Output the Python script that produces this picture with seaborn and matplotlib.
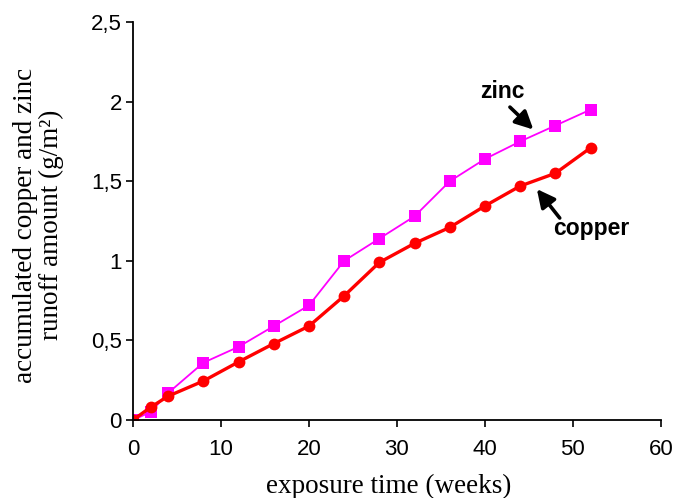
import matplotlib
matplotlib.use("Agg")
import matplotlib.pyplot as plt
import seaborn as sns
import pandas as pd

weeks = [0, 2, 4, 8, 12, 16, 20, 24, 28, 32, 36, 40, 44, 48, 52]
zinc = [0.0, 0.05, 0.17, 0.36, 0.46, 0.59, 0.72, 1.0, 1.14, 1.28, 1.5, 1.64, 1.75, 1.85, 1.95]
copper = [0.0, 0.08, 0.15, 0.245, 0.365, 0.48, 0.59, 0.78, 0.99, 1.11, 1.21, 1.345, 1.47, 1.55, 1.71]
x_ticks = [0, 10, 20, 30, 40, 50, 60]
y_ticks = [0, 0.5, 1, 1.5, 2, 2.5]
y_tick_labels = ["0", "0,5", "1", "1,5", "2", "2,5"]

sns.set_theme(style="ticks")
plt.rcParams['font.family'] = ['Liberation Sans', 'DejaVu Sans']
plt.rcParams['text.color'] = 'black'
plt.rcParams['axes.labelcolor'] = 'black'

df_z = pd.DataFrame({"weeks": weeks, "value": zinc})
df_c = pd.DataFrame({"weeks": weeks, "value": copper})

fig = plt.figure(figsize=(6.76, 4.98), dpi=100)
ax = fig.add_axes([0.1967, 0.1566, 0.781, 0.799])

sns.lineplot(data=df_z, x="weeks", y="value", ax=ax, color="#FF00FF",
             marker="s", markersize=8.5, markeredgewidth=0, linewidth=1.3)
sns.lineplot(data=df_c, x="weeks", y="value", ax=ax, color="#FF0000",
             marker="o", markersize=8.5, markeredgewidth=0, linewidth=2.4)

ax.set_xlim(0, 60)
ax.set_ylim(0, 2.5)
ax.set_xticks(x_ticks)
ax.set_xticklabels([str(t) for t in x_ticks])
ax.set_yticks(y_ticks)
ax.set_yticklabels(y_tick_labels)
ax.tick_params(axis="both", labelsize=16, length=5, width=1.2, colors="black")
ax.tick_params(axis="x", pad=9)
ax.tick_params(axis="y", pad=3)
for s in ["left", "bottom"]:
    ax.spines[s].set_linewidth(1.3)
    ax.spines[s].set_color("black")
sns.despine(ax=ax)

ax.set_xlabel("exposure time (weeks)", fontsize=19.5, family="Liberation Serif", color="black")
ax.set_ylabel("accumulated copper and zinc\nrunoff amount (g/m²)", fontsize=19.5,
              family="Liberation Serif", linespacing=1.05, color="black")
ax.xaxis.set_label_coords(0.485, -0.135)
ax.yaxis.set_label_coords(-0.13, 0.49)

arrow = dict(arrowstyle="-|>,head_length=0.9,head_width=0.45", color="black", lw=2.6,
             shrinkA=0, shrinkB=0)
ax.text(39.4, 2.023, "zinc", fontsize=16.5, fontweight="bold", ha="left", va="baseline",
        color="black")
ax.annotate("", xy=(45.5, 1.825), xytext=(42.84, 1.966), arrowprops=arrow)
ax.text(47.7, 1.162, "copper", fontsize=16.5, fontweight="bold", ha="left", va="baseline",
        color="black")
ax.annotate("", xy=(45.9, 1.451), xytext=(48.5, 1.269), arrowprops=arrow)

fig.savefig("out.png", dpi=100)
